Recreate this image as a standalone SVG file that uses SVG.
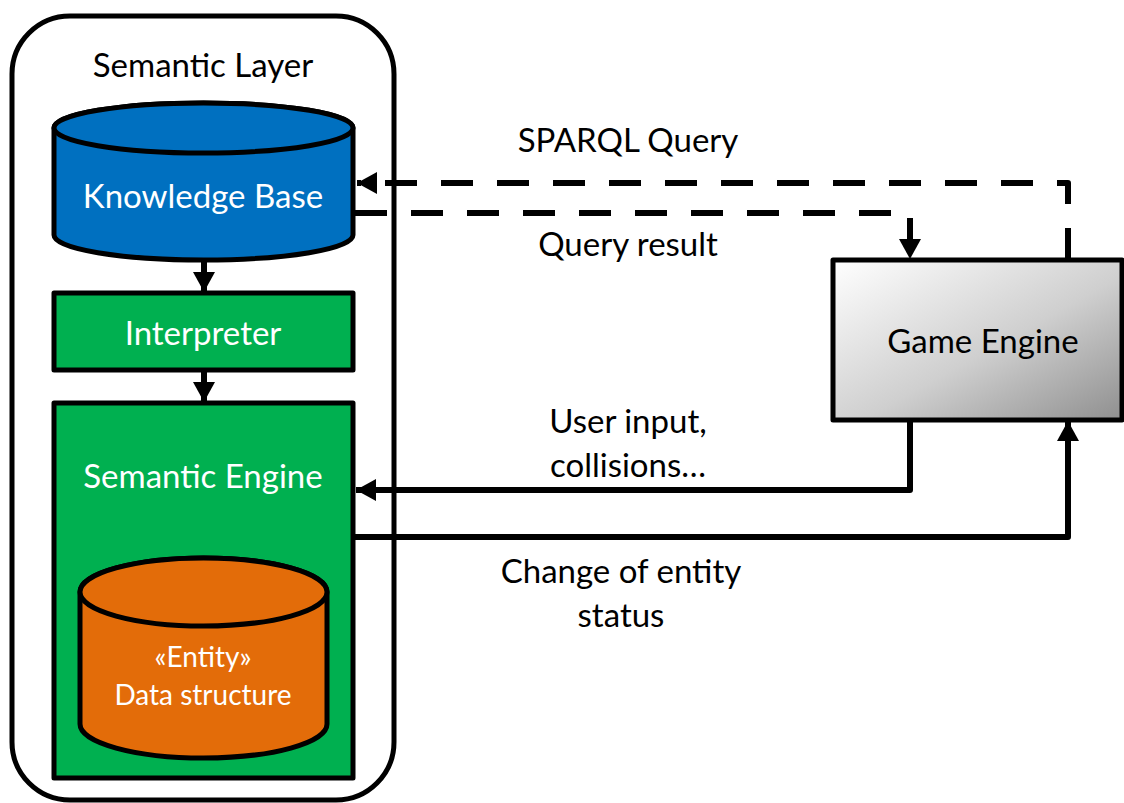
<svg xmlns="http://www.w3.org/2000/svg" width="1124" height="803" viewBox="0 0 1124 803">
<defs>
<linearGradient id="geGrad" x1="0" y1="0" x2="1" y2="1">
<stop offset="0" stop-color="#ffffff"/>
<stop offset="0.55" stop-color="#cfcfcf"/>
<stop offset="1" stop-color="#8f8f8f"/>
</linearGradient>
<marker id="arr" markerUnits="userSpaceOnUse" markerWidth="24" markerHeight="24" viewBox="0 0 24 24" refX="22" refY="12" orient="auto">
<path d="M2,1 L22,12 L2,23 Z" fill="#000"/>
</marker>
</defs>
<style>
.t{font-family:Lato,"Liberation Sans",sans-serif;text-anchor:middle;font-size:33px}
.s{font-size:28px}
.w{fill:#fff}
.b{fill:#000}
.box{stroke:#000;stroke-width:5;stroke-linejoin:round}
.c{fill:none;stroke:#000;stroke-width:6;stroke-linejoin:round}
.d{stroke-dasharray:32 24}
</style>
<rect width="1124" height="803" fill="#fff"/>
<g id="semantic-layer">
<rect x="12" y="16" width="382" height="784" rx="58" ry="58" fill="#fff" stroke="#000" stroke-width="5"/>
<text class="t b" x="203" y="77">Semantic Layer</text>
</g>
<g id="knowledge-base">
<path class="box" d="M54,128 L54,235 A149.5,25 0 0 0 353,235 L353,128 A149.5,25 0 0 0 54,128 Z" fill="#0070C0"/>
<ellipse class="box" cx="203.5" cy="128" rx="149.5" ry="25" fill="#0070C0"/>
<text class="t w" x="203" y="208">Knowledge Base</text>
</g>
<g id="interpreter">
<rect class="box" x="54" y="293" width="299" height="77" fill="#00B050"/>
<text class="t w" x="203" y="345">Interpreter</text>
</g>
<g id="semantic-engine">
<rect class="box" x="54" y="403" width="299" height="375" fill="#00B050"/>
<text class="t w" x="203" y="488">Semantic Engine</text>
</g>
<g id="entity-data-structure">
<path class="box" d="M80,592 L80,724 A123.5,34 0 0 0 327,724 L327,592 A123.5,34 0 0 0 80,592 Z" fill="#E36C09"/>
<ellipse class="box" cx="203.5" cy="592" rx="123.5" ry="34" fill="#E36C09"/>
<text class="t s w" x="203" y="667">«Entity»</text>
<text class="t s w" x="203" y="705">Data structure</text>
</g>
<g id="game-engine">
<rect class="box" x="833" y="260" width="289" height="160" fill="url(#geGrad)"/>
<text class="t b" x="983" y="353">Game Engine</text>
</g>
<g id="connectors">
<path class="c" d="M204,260 L204,292" marker-end="url(#arr)"/>
<path class="c" d="M204,370 L204,402" marker-end="url(#arr)"/>
<path class="c d" d="M1068,260 L1068,183 L357,183" marker-end="url(#arr)"/>
<path class="c d" d="M355,213 L910,213 L910,259" marker-end="url(#arr)"/>
<path class="c" d="M910,420 L910,490 L356,490" marker-end="url(#arr)"/>
<path class="c" d="M355,537 L1068,537 L1068,421" marker-end="url(#arr)"/>
</g>
<g id="labels">
<text class="t b" x="628" y="152">SPARQL Query</text>
<text class="t b" x="628" y="256">Query result</text>
<text class="t b" x="628" y="433">User input,</text>
<text class="t b" x="628" y="477">collisions…</text>
<text class="t b" x="621" y="583">Change of entity</text>
<text class="t b" x="621" y="627">status</text>
</g>
</svg>
